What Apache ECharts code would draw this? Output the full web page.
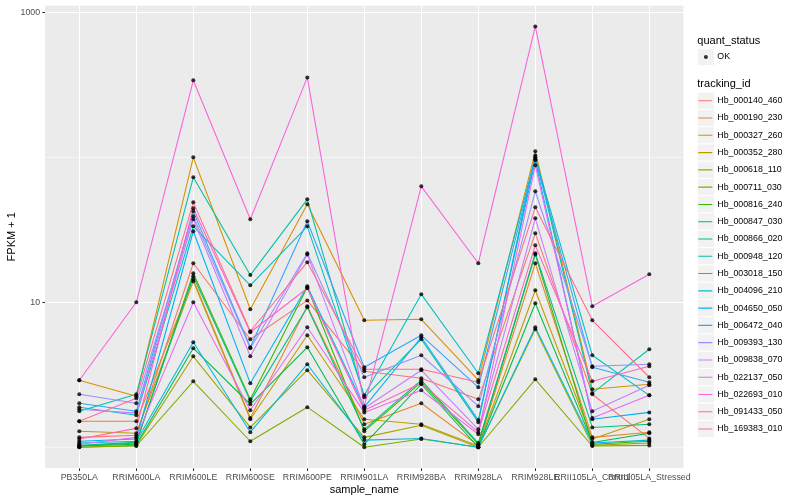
<!DOCTYPE html>
<html><head><meta charset="utf-8">
<script src="https://cdn.jsdelivr.net/npm/echarts@6/dist/echarts.min.js"></script>
<style>html,body{margin:0;padding:0;background:#fff}#c{width:800px;height:500px}</style>
</head><body><div id="c"></div>
<script>
// ---------- data ----------
const categories = ['PB350LA','RRIM600LA','RRIM600LE','RRIM600SE','RRIM600PE','RRIM901LA','RRIM928BA','RRIM928LA','RRIM928LE','RRII105LA_Control','RRII105LA_Stressed'];
const trackingIds = ['Hb_000140_460','Hb_000190_230','Hb_000327_260','Hb_000352_280','Hb_000618_110','Hb_000711_030','Hb_000816_240','Hb_000847_030','Hb_000866_020','Hb_000948_120','Hb_003018_150','Hb_004096_210','Hb_004650_050','Hb_006472_040','Hb_009393_130','Hb_009838_070','Hb_022137_050','Hb_022693_010','Hb_091433_050','Hb_169383_010'];
const Hb_000140_460 = [1.17, 1.21, 18.6, 5.56, 10.3, 3.34, 2.99, 2.14, 29.9, 2.32, 1.15];
const Hb_000190_230 = [1.51, 1.51, 14.4, 1.59, 9.38, 1.44, 2.01, 1.03, 18.6, 1.17, 1.27];
const Hb_000327_260 = [2.90, 2.25, 100, 8.95, 47.4, 7.51, 7.63, 2.90, 110, 2.51, 2.72];
const Hb_000352_280 = [1.29, 1.25, 13.95, 1.56, 5.92, 1.56, 1.44, 1.02, 12.1, 1.14, 1.56];
const Hb_000618_110 = [1.0, 1.03, 4.24, 1.37, 3.40, 1.17, 1.42, 1.0, 6.51, 1.03, 1.07];
const Hb_000711_030 = [1.0, 1.02, 2.85, 1.10, 1.89, 1.0, 1.14, 1.0, 2.94, 1.02, 1.03];
const Hb_000816_240 = [1.02, 1.07, 15.85, 2.14, 12.7, 1.29, 2.81, 1.05, 21.4, 1.05, 1.10];
const Hb_000847_030 = [1.02, 1.05, 4.82, 1.98, 4.89, 1.05, 2.72, 1.0, 9.84, 1.08, 1.25];
const Hb_000866_020 = [1.03, 1.08, 15.1, 2.08, 9.24, 1.33, 2.90, 1.07, 21.8, 1.37, 1.44];
const Hb_000948_120 = [1.77, 2.32, 72.8, 15.4, 51.3, 2.21, 5.56, 1.49, 103, 2.36, 4.74];
const Hb_003018_150 = [1.89, 1.66, 33.4, 13.1, 33.4, 2.28, 11.35, 3.24, 100, 4.31, 2.28];
const Hb_004096_210 = [1.07, 1.10, 5.30, 1.27, 3.74, 1.12, 1.15, 1.0, 6.72, 1.07, 1.12];
const Hb_004650_050 = [1.10, 1.14, 30.9, 2.76, 12.9, 1.89, 5.74, 1.54, 95.3, 1.56, 1.74];
const Hb_006472_040 = [2.01, 1.77, 42.4, 4.89, 36.2, 3.56, 5.92, 2.59, 96.9, 3.56, 2.81];
const Hb_009393_130 = [2.32, 2.01, 39.2, 4.82, 21.8, 3.04, 4.31, 1.92, 58.3, 3.62, 3.74];
const Hb_009838_070 = [1.83, 1.72, 37.4, 4.24, 21.4, 1.86, 3.40, 1.33, 37.95, 1.77, 2.68];
const Hb_022137_050 = [1.05, 1.17, 10, 1.80, 6.72, 1.74, 2.47, 1.23, 88.1, 1.59, 2.28];
const Hb_022693_010 = [2.90, 10, 340, 37.4, 356, 1.92, 63.1, 18.6, 800, 9.38, 15.6];
const Hb_091433_050 = [1.14, 1.35, 44.5, 6.21, 12.5, 1.80, 2.76, 1.27, 24.7, 2.85, 3.62];
const Hb_169383_010 = [1.51, 2.18, 48.9, 6.31, 18.9, 3.45, 3.45, 2.81, 45.2, 7.51, 3.04];
const seriesValues = [Hb_000140_460, Hb_000190_230, Hb_000327_260, Hb_000352_280, Hb_000618_110, Hb_000711_030, Hb_000816_240, Hb_000847_030, Hb_000866_020, Hb_000948_120, Hb_003018_150, Hb_004096_210, Hb_004650_050, Hb_006472_040, Hb_009393_130, Hb_009838_070, Hb_022137_050, Hb_022693_010, Hb_091433_050, Hb_169383_010];
const yTickLabels = [10, 1000];
const quantStatus = ['OK'];

// ---------- style ----------
const hueColors = ['#F8766D','#EA8331','#D89000','#C09B00','#A3A500','#7CAE00','#39B600','#00BB4E','#00BF7D','#00C1A3','#00BFC4','#00BAE0','#00B0F6','#35A2FF','#9590FF','#C77CFF','#E76BF3','#FA62DB','#FF62BC','#FF6C91'];
const FONT = 'Liberation Sans, Arial, Helvetica, sans-serif';
const yMin = 0.7158, yMax = 1118.6;
const panel = {left: 45.1, top: 5.3, width: 638.4, height: 463};
const dataGrid = {left: 50.8, top: 5.3, width: 627, height: 463};
const keySize = 17.28;
const keyLeft = 697.3;
const trackTop = 92.1;
const okTop = 48.4;

const chart = echarts.init(document.getElementById('c'), null, {renderer: 'canvas'});

const lineSeries = trackingIds.map((id, i) => ({
  type: 'line', name: id, xAxisIndex: 2, yAxisIndex: 2,
  data: seriesValues[i], symbol: 'none', color: hueColors[i],
  lineStyle: {width: 1.07, color: hueColors[i]}, silent: true, z: 3
}));
const pointData = [];
seriesValues.forEach(vals => vals.forEach((v, j) => pointData.push([j, v])));
const pointSeries = {
  type: 'scatter', name: 'OK', xAxisIndex: 2, yAxisIndex: 2,
  data: pointData, symbol: 'circle', symbolSize: 4, color: '#000',
  itemStyle: {color: '#000'}, silent: true, z: 5
};

const legendLineIcon = 'path://M0,0L0.001,0Z M0,8.1L14,8.1L14,9.2L0,9.2Z M13.999,17.28L14,17.28Z';
const legendDotIcon = 'path://M0,0L0.001,0Z M5.6,8.64A2,2 0 1,0 9.6,8.64A2,2 0 1,0 5.6,8.64Z M13.999,17.28L14,17.28Z';

const graphics = [];
graphics.push({type: 'rect', shape: {x: keyLeft, y: okTop, width: keySize, height: keySize}, style: {fill: '#F2F2F2', stroke: '#fff', lineWidth: 1}, z: 1});
trackingIds.forEach((id, i) => graphics.push({type: 'rect', shape: {x: keyLeft, y: trackTop + keySize * i, width: keySize, height: keySize}, style: {fill: '#F2F2F2', stroke: '#fff', lineWidth: 1}, z: 1}));
graphics.push({type: 'text', x: keyLeft, y: 40.7, style: {text: 'quant_status', fill: '#000', fontSize: 11, fontFamily: FONT, verticalAlign: 'middle'}, z: 2});
graphics.push({type: 'text', x: keyLeft, y: 84, style: {text: 'tracking_id', fill: '#000', fontSize: 11, fontFamily: FONT, verticalAlign: 'middle'}, z: 2});

const hiddenX = {type: 'value', min: 0, max: 1, show: false};
const option = {
  animation: false,
  backgroundColor: '#fff',
  textStyle: {fontFamily: FONT},
  grid: [
    Object.assign({show: true, backgroundColor: '#EBEBEB', borderWidth: 0, outerBoundsMode: 'none'}, panel),
    Object.assign({show: false, borderWidth: 0, outerBoundsMode: 'none'}, panel),
    Object.assign({show: false, borderWidth: 0, outerBoundsMode: 'none'}, dataGrid)
  ],
  xAxis: [
    Object.assign({gridIndex: 0}, hiddenX),
    Object.assign({gridIndex: 1}, hiddenX),
    {
      gridIndex: 2, type: 'category', data: categories, boundaryGap: true,
      name: 'sample_name', nameLocation: 'middle', nameGap: 16, nameMoveOverlap: false,
      nameTextStyle: {fontSize: 11, color: '#000', fontFamily: FONT},
      axisLine: {show: false},
      axisTick: {show: true, alignWithLabel: true, length: 2.75, lineStyle: {color: '#333333', width: 1.07}},
      axisLabel: {interval: 0, hideOverlap: false, fontSize: 8.8, color: '#4D4D4D', margin: 5, fontFamily: FONT},
      splitLine: {show: true, alignWithLabel: true, lineStyle: {color: '#FFFFFF', width: 1.07}}
    }
  ],
  yAxis: [
    {gridIndex: 0, type: 'log', logBase: 10, min: yMin, max: yMax,
     axisLine: {show: false}, axisTick: {show: false}, axisLabel: {show: false},
     splitLine: {show: true, lineStyle: {color: '#FFFFFF', width: 0.53}}},
    {gridIndex: 1, type: 'log', logBase: 10, min: yMin, max: yMax,
     name: 'FPKM + 1', nameLocation: 'middle', nameGap: 28, nameMoveOverlap: false,
     nameTextStyle: {fontSize: 11, color: '#000', fontFamily: FONT},
     axisLine: {show: false},
     axisTick: {show: true, length: 2.75, customValues: yTickLabels, lineStyle: {color: '#333333', width: 1.07}},
     axisLabel: {show: true, customValues: yTickLabels, fontSize: 8.8, color: '#4D4D4D', margin: 5, fontFamily: FONT,
                 formatter: v => String(Math.round(v))},
     splitLine: {show: true, lineStyle: {color: '#FFFFFF', width: 1.07}}},
    {gridIndex: 2, type: 'log', logBase: 10, min: yMin, max: yMax, show: false}
  ],
  legend: [
    {data: [{name: quantStatus[0], icon: legendDotIcon, itemStyle: {color: '#000', borderWidth: 0}}],
     orient: 'vertical', left: keyLeft + 1, top: okTop,
     itemWidth: 14, itemHeight: keySize, itemGap: 0, padding: 0, symbolKeepAspect: false,
     selectedMode: false, itemStyle: {borderWidth: 0},
     textStyle: {fontSize: 8.8, color: '#000', fontFamily: FONT}},
    {data: trackingIds.map((id, i) => ({name: id, icon: legendLineIcon, itemStyle: {color: hueColors[i], borderWidth: 0}})),
     orient: 'vertical', left: keyLeft + 1, top: trackTop,
     itemWidth: 14, itemHeight: keySize, itemGap: 0, padding: 0, symbolKeepAspect: false,
     selectedMode: false, itemStyle: {borderWidth: 0},
     textStyle: {fontSize: 8.8, color: '#000', fontFamily: FONT}}
  ],
  graphic: graphics,
  series: lineSeries.concat([pointSeries])
};
chart.setOption(option);
</script></body></html>
